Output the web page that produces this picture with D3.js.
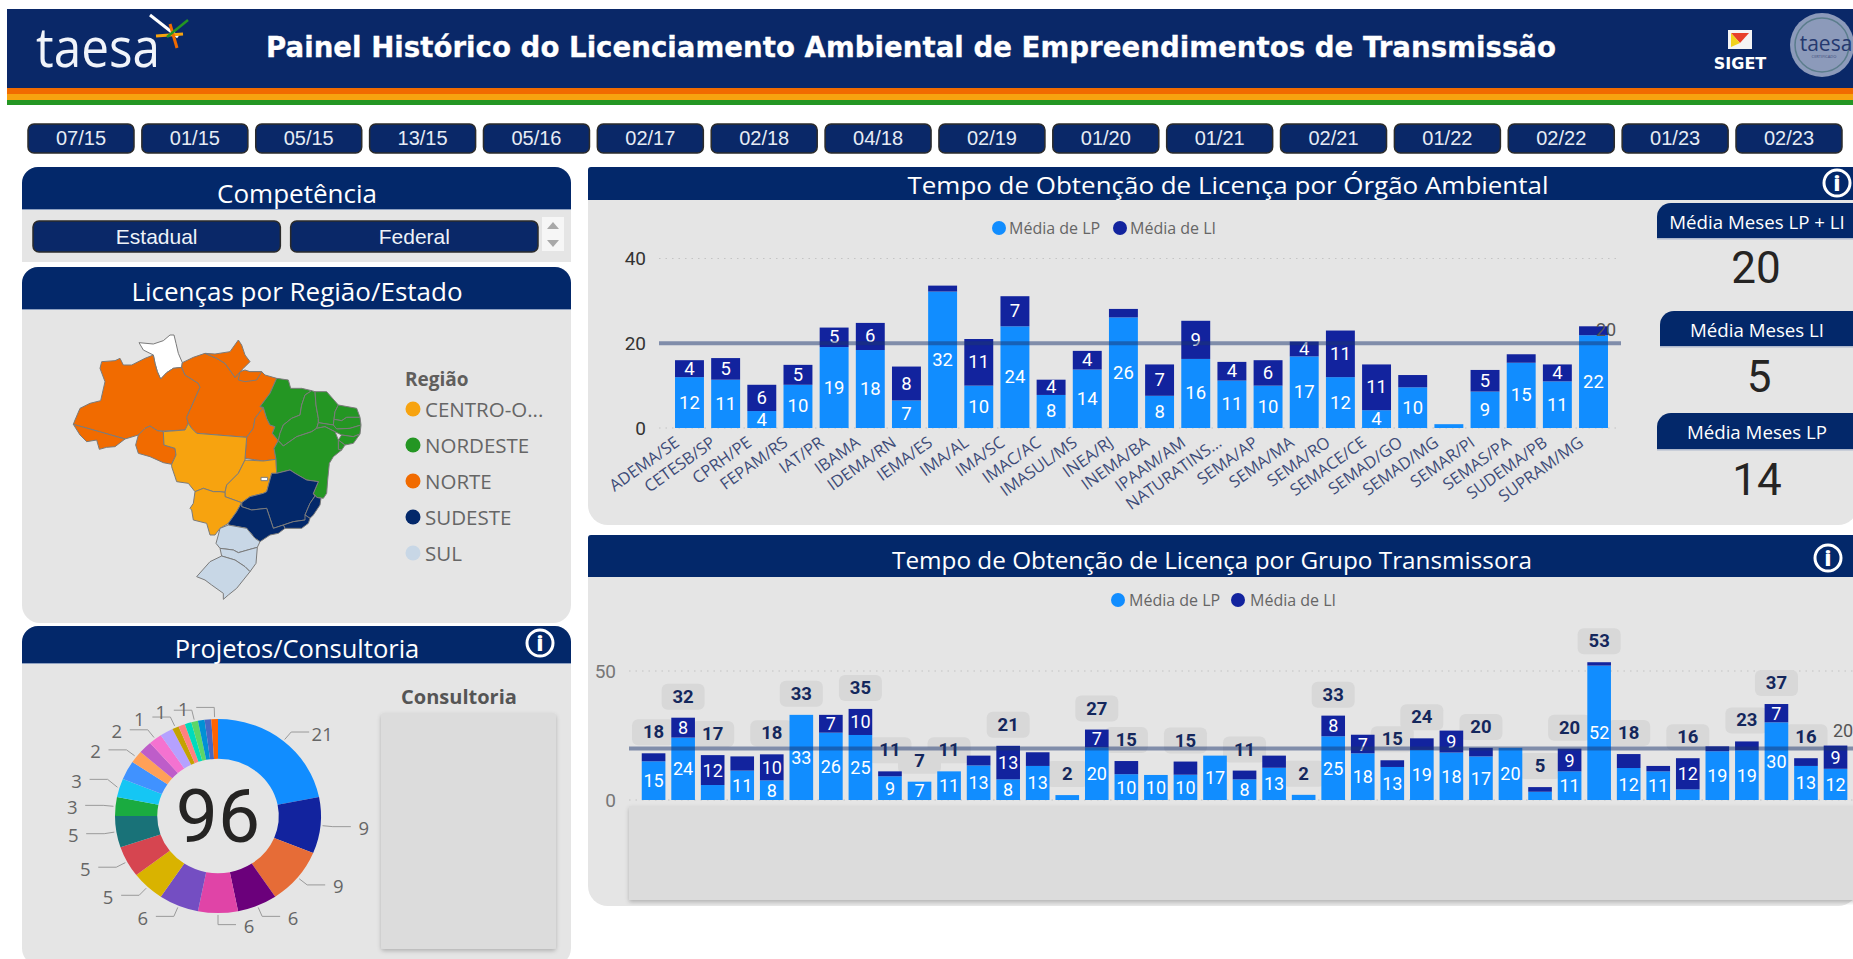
<!DOCTYPE html>
<html><head><meta charset="utf-8">
<script src="https://cdn.jsdelivr.net/npm/d3@7/dist/d3.min.js"></script>
<style>
html,body{margin:0;padding:0;background:#fff;overflow:hidden}
svg{display:block}
text{font-family:"Open Sans",sans-serif}
.narrow{font-family:"Liberation Sans Narrow","Roboto",sans-serif}
.arial{font-family:"Liberation Sans",Arial,sans-serif}
</style></head><body>
<svg id="c" width="1853" height="959"></svg>
<script>
// ---------- data ----------
const periodButtons = ["07/15","01/15","05/15","13/15","05/16","02/17","02/18","04/18","02/19","01/20","01/21","02/21","01/22","02/22","01/23","02/23"];
const competencia = ["Estadual","Federal"];

const orgaos = ["ADEMA/SE","CETESB/SP","CPRH/PE","FEPAM/RS","IAT/PR","IBAMA","IDEMA/RN","IEMA/ES","IMA/AL","IMA/SC","IMAC/AC","IMASUL/MS","INEA/RJ","INEMA/BA","IPAAM/AM","NATURATINS...","SEMA/AP","SEMA/MA","SEMA/RO","SEMACE/CE","SEMAD/GO","SEMAD/MG","SEMAR/PI","SEMAS/PA","SUDEMA/PB","SUPRAM/MG"];
const orgaoLP = [12,11.4,4,10.2,19.1,18.4,6.5,32.2,10,24,7.8,13.8,26.1,7.6,16.3,11.2,10,16.9,12,4.2,9.6,0.9,8.6,15.4,11,21.9];
const orgaoLI = [4,5.1,6.2,4.7,4.6,6.4,8,1.4,11,7.1,3.6,4.4,2,7.4,9,4.4,6,3.5,11,10.8,2.9,0,5.1,2,4,2.1];
const orgaoTicks = [0,20,40];
const orgaoAverage = 20;

const grupos = d3.range(1,42).map(i=>"Grupo "+i);
const grupoLP = [15,24.2,5.8,11.4,7.6,33,26.1,25.2,9.2,7.1,11.1,13.4,8,13.2,1.9,20.4,10,9.7,9.8,17.2,8,12.5,2,24.7,18.1,12.8,19.4,18.4,16.9,20.2,3.2,11.1,52.1,12.4,11.1,4.1,18.9,19.3,30.1,13.2,12.1];
const grupoLI = [3.1,7.7,11.6,5.5,10.1,0,6.9,10.1,1.9,0,0,3.8,13,5.3,0,6.9,5.1,0,5.1,0,3.4,4.7,0,8,7.2,2.6,4.5,8.5,3.3,0,1.8,8.8,1.3,5.4,2.1,12.1,1.9,3.4,7.1,3,9];
const grupoTotalShown = [1,1,1,0,1,1,0,1,1,1,1,0,1,0,1,1,1,0,1,0,1,0,1,1,0,1,1,0,1,0,1,1,1,1,0,1,0,1,1,1,0];
const grupoTicks = [0,50];
const grupoAverage = 20;

const consultoriaValues = [21,9,9,6,6,6,5,5,5,3,3,3,2,2,2,2,1,1,1,1,1,1,1];
const consultoriaColors = ["#118DFF","#12239E","#E66C37","#6B007B","#E044A7","#744EC2","#D9B300","#D64550","#197278","#1AAB40","#15C6F4","#4092FF","#FFA058","#BE5DC9","#F472D0","#B5A1FF","#C4A200","#FF8080","#00DBBC","#5BD667","#0091D5","#4668C5","#FF6300"];
const consultoriaLabelShown = [1,1,1,1,1,1,1,1,1,1,1,0,1,0,1,0,1,0,0,1,0,0,1];
const consultoriaTotal = 96;

const regioes = ["CENTRO-O...","NORDESTE","NORTE","SUDESTE","SUL"];
const regiaoCores = ["#F7A30F","#249623","#F16B00","#03286A","#C8D7E6"];
const kpis = [["Média Meses LP + LI",20],["Média Meses LI",5],["Média Meses LP",14]];

// state outlines, in map units
const states = [
 ["RR",null,[[207,38],[250,42],[280,32],[300,15],[312,15],[318,40],[325,70],[337,98],[335,112],[310,115],[290,128],[272,147],[262,125],[255,100],[250,75],[220,60]]],
 ["AM",2,[[10,283],[15,270],[30,235],[60,220],[92,212],[105,155],[90,115],[95,95],[135,92],[150,85],[160,105],[185,105],[225,85],[250,75],[255,100],[262,125],[272,147],[290,128],[310,115],[335,112],[345,135],[385,160],[390,172],[350,262],[355,280],[345,300],[280,303],[262,302],[240,288],[225,295],[205,315],[165,327],[88,305]]],
 ["AC",2,[[10,283],[88,305],[165,327],[135,350],[110,352],[88,358],[80,330],[50,335],[30,315]]],
 ["RO",2,[[205,315],[225,295],[240,288],[262,302],[280,305],[282,345],[315,355],[318,375],[305,403],[280,398],[240,380],[205,370],[197,345]]],
 ["PA",2,[[335,112],[337,98],[370,82],[405,70],[440,85],[465,100],[495,142],[510,125],[540,125],[575,125],[585,135],[620,145],[600,190],[570,230],[580,232],[555,265],[550,295],[530,322],[380,310],[365,295],[355,280],[350,262],[390,172],[385,160],[345,135]]],
 ["PA2",2,[[510,125],[525,120],[540,125],[575,125],[560,150],[525,155],[505,150]]],
 ["AP",2,[[405,70],[435,72],[480,65],[505,30],[515,45],[525,75],[540,95],[520,115],[495,142],[465,100],[440,85]]],
 ["TO",2,[[580,232],[590,265],[600,285],[615,290],[607,310],[625,332],[612,355],[618,388],[580,393],[525,385],[530,322],[550,295],[555,265]]],
 ["MT",0,[[280,305],[345,300],[355,280],[365,295],[380,310],[530,322],[525,385],[525,390],[505,430],[470,465],[465,487],[450,485],[430,485],[400,475],[375,485],[355,460],[320,455],[315,440],[305,410],[305,403],[318,375],[315,355],[282,345]]],
 ["GO",0,[[525,390],[580,393],[618,388],[620,430],[605,430],[590,485],[580,490],[540,500],[515,518],[465,500],[465,487],[470,465],[505,430]]],
 ["DF",null,[[573,442],[593,442],[593,452],[573,452]]],
 ["MS",0,[[375,485],[400,475],[430,485],[450,485],[465,487],[465,500],[515,518],[500,545],[475,580],[450,595],[435,615],[420,615],[410,580],[370,570],[365,540],[360,535],[370,520]]],
 ["MA",1,[[620,145],[655,150],[662,175],[695,175],[725,182],[705,195],[695,225],[690,255],[665,265],[640,285],[630,310],[625,332],[607,310],[615,290],[600,285],[590,265],[580,232],[570,230],[600,190]]],
 ["PI",1,[[725,182],[735,185],[738,225],[745,265],[745,278],[740,295],[725,305],[680,320],[640,348],[625,332],[630,310],[640,285],[665,265],[690,255],[695,225],[705,195]]],
 ["CE",1,[[735,185],[770,185],[805,225],[795,245],[792,268],[790,285],[745,278],[745,265],[738,225]]],
 ["RN",1,[[805,225],[860,235],[870,262],[830,262],[815,272],[792,268],[795,245]]],
 ["PB",1,[[792,268],[815,272],[830,262],[870,262],[873,285],[840,295],[800,297],[790,285]]],
 ["PE",1,[[740,295],[745,278],[790,285],[800,297],[840,295],[873,285],[870,312],[850,320],[815,315],[795,305],[765,290]]],
 ["AL",1,[[815,315],[850,320],[870,312],[850,340],[825,345],[805,330]]],
 ["SE",1,[[805,330],[825,345],[815,360],[805,358]]],
 ["BA",1,[[625,332],[640,348],[680,320],[725,305],[740,295],[765,290],[795,305],[805,330],[805,358],[815,360],[790,380],[778,400],[773,450],[770,490],[760,505],[740,502],[730,490],[745,455],[710,450],[675,430],[660,420],[620,430],[618,388],[612,355]]],
 ["MG",3,[[590,485],[605,430],[620,430],[660,420],[675,430],[710,450],[745,455],[730,490],[735,498],[720,520],[705,555],[720,565],[705,570],[670,575],[640,585],[610,595],[600,565],[590,535],[545,540],[515,530],[515,518],[540,500],[580,490]]],
 ["ES",3,[[730,490],[740,502],[753,505],[750,525],[730,555],[720,565],[705,555],[720,520],[735,498]]],
 ["RJ",3,[[705,555],[720,565],[715,580],[695,595],[675,595],[645,595],[640,585],[670,575],[705,570]]],
 ["SP",3,[[515,530],[545,540],[590,535],[600,565],[610,595],[640,585],[645,595],[625,610],[600,615],[570,635],[555,625],[530,595],[475,585],[475,580],[500,545],[515,518]]],
 ["PR",4,[[475,585],[530,595],[555,625],[570,635],[562,652],[540,658],[505,668],[490,660],[450,655],[438,640],[445,615],[450,595]]],
 ["SC",4,[[450,655],[490,660],[505,668],[540,658],[562,652],[558,700],[540,725],[525,710],[495,690],[455,678]]],
 ["RS",4,[[455,678],[495,690],[525,710],[540,725],[500,775],[475,795],[460,808],[460,790],[425,765],[405,750],[380,740],[420,695]]]
];

// ---------- helpers ----------
const NAVY="#03286A", GREY="#E5E5E5", LP="#118DFF", LI="#12239E";
const svg=d3.select("#c");
const defs=svg.append("defs");
const sh=defs.append("filter").attr("id","sh").attr("x","-5%").attr("y","-5%").attr("width","110%").attr("height","110%");
sh.append("feDropShadow").attr("dx",0).attr("dy",2).attr("stdDeviation",2).attr("flood-color","#000").attr("flood-opacity",.22);

function rr(x,y,w,h,rt,rb,fill){
  const p=d3.path();
  p.moveTo(x+rt,y);p.lineTo(x+w-rt,y);p.arcTo(x+w,y,x+w,y+rt,rt);
  p.lineTo(x+w,y+h-rb);p.arcTo(x+w,y+h,x+w-rb,y+h,rb);
  p.lineTo(x+rb,y+h);p.arcTo(x,y+h,x,y+h-rb,rb);
  p.lineTo(x,y+rt);p.arcTo(x,y,x+rt,y,rt);p.closePath();
  return svg.append("path").attr("d",p.toString()).attr("fill",fill);
}
function txt(parent,x,y,s,size,fill,opts={}){
  const t=parent.append("text").attr("x",x).attr("y",y).attr("text-anchor",opts.anchor||"middle")
   .attr("dominant-baseline","central").attr("font-size",size).attr("fill",fill).text(s);
  if(opts.weight)t.attr("font-weight",opts.weight);
  if(opts.cls)t.attr("class",opts.cls);
  if(opts.family)t.style("font-family",opts.family);
  if(opts.len)t.attr("textLength",opts.len).attr("lengthAdjust","spacingAndGlyphs");
  return t;
}
function panel(x,y,w,hHead,hTotal,title,cx,cy,size,rt,rb,len){
  rr(x,y,w,hTotal,rt,rb,GREY);
  rr(x,y,w,hHead,rt,0,NAVY);
  svg.append("rect").attr("x",x).attr("y",y+hHead-1).attr("width",w).attr("height",1).attr("fill","#8ea0c0");
  txt(svg,cx,cy,title,size,"#fff",{len});
}
function info(x,y){
  svg.append("circle").attr("cx",x).attr("cy",y).attr("r",13).attr("fill",NAVY).attr("stroke","#fff").attr("stroke-width",3);
  txt(svg,x,y,"i",21,"#fff",{weight:800});
}

// ---------- page header ----------
svg.append("rect").attr("x",7).attr("y",9).attr("width",1846).attr("height",80).attr("fill","#0A2868");
[["#F16B00",88,6],["#F7A30F",94,6],["#C9D9A0",100,1],["#249623",100,5]].forEach(b=>
  svg.append("rect").attr("x",7).attr("y",b[1]).attr("width",1846).attr("height",b[2]).attr("fill",b[0]));
txt(svg,98,46,"taesa",54,"#F1F4FA",{len:124});
[[150,15,178,37,"#fff",3],[156,36,183,34,"#F7A30F",3],[170,24,177,48,"#F16B00",3],[167,37,188,20,"#249623",2.5]].forEach(l=>
  svg.append("line").attr("x1",l[0]).attr("y1",l[1]).attr("x2",l[2]).attr("y2",l[3]).attr("stroke",l[4]).attr("stroke-width",l[5]));
txt(svg,911,47,"Painel Histórico do Licenciamento Ambiental de Empreendimentos de Transmissão",28.5,"#fff",{weight:700,family:"'DejaVu Sans'",len:1290}).attr("stroke","#fff").attr("stroke-width",.3);
// SIGET mark
svg.append("rect").attr("x",1728).attr("y",30).attr("width",24).attr("height",19).attr("fill","#F4F4F4");
svg.append("path").attr("d","M1731 33H1749L1740 43Z").attr("fill","#E8402A");
svg.append("path").attr("d","M1731 33L1740 43L1731 47Z").attr("fill","#F2D21C");
txt(svg,1740,63,"SIGET",16,"#fff",{weight:700,family:"'DejaVu Sans'"});
svg.append("circle").attr("cx",1822).attr("cy",45).attr("r",32).attr("fill","#8C9ABA");
svg.append("circle").attr("cx",1822).attr("cy",45).attr("r",27).attr("fill","none").attr("stroke","#5B7D8C").attr("stroke-width",1.5);
txt(svg,1826,43,"taesa",21,"#25396F");
txt(svg,1824,56,"CERTIFICADO",4,"#3c4c7a");

// ---------- period buttons ----------
const btnX=d3.scaleLinear().domain([0,15]).range([28,1736]);
const btn=svg.append("g").selectAll("g").data(periodButtons).join("g");
btn.append("rect").attr("x",(d,i)=>btnX(i)).attr("y",124).attr("width",106).attr("height",29).attr("rx",6)
  .attr("fill","#0A2868").attr("stroke","#2b2b2b").attr("stroke-width",1.5);
btn.append("text").attr("class","arial").attr("x",(d,i)=>btnX(i)+53).attr("y",138).attr("text-anchor","middle")
  .attr("dominant-baseline","central").attr("font-size",20).attr("fill","#E6ECF5").text(d=>d);

// ---------- competência ----------
panel(22,167,549,43,95,"Competência",297,193,26,16,0);
const compX=d3.scaleBand().domain(competencia).range([33,538]).paddingInner(.04);
const comp=svg.append("g").selectAll("g").data(competencia).join("g");
comp.append("rect").attr("x",d=>compX(d)).attr("y",221).attr("width",compX.bandwidth()).attr("height",31).attr("rx",6)
  .attr("fill","#0A2868").attr("stroke","#2b2b2b").attr("stroke-width",1.5);
comp.append("text").attr("class","arial").attr("x",d=>compX(d)+compX.bandwidth()/2).attr("y",236.5).attr("text-anchor","middle")
  .attr("dominant-baseline","central").attr("font-size",21).attr("fill","#EEF2F8").text(d=>d);
svg.append("rect").attr("x",542).attr("y",217).attr("width",22).attr("height",34).attr("fill","#F6F6F6");
svg.append("path").attr("d","M547 229L553 222L559 229Z").attr("fill","#A8A8A8");
svg.append("path").attr("d","M547 240L553 247L559 240Z").attr("fill","#A8A8A8");

// ---------- map ----------
panel(22,267,549,43,356,"Licenças por Região/Estado",297,291,26,16,18);
const mapPath=d3.geoPath(d3.geoIdentity().scale(1/3).translate([70,330]));
svg.append("g").selectAll("path").data(states).join("path")
  .attr("d",d=>mapPath({type:"Polygon",coordinates:[[...d[2],d[2][0]]]}))
  .attr("fill",d=>d[1]===null?"#fff":regiaoCores[d[1]])
  .attr("stroke","#7B7B7B").attr("stroke-width",1).attr("stroke-linejoin","round");
txt(svg,405,379,"Região",19,"#605E5C",{anchor:"start",weight:700});
const legY=d3.scalePoint().domain(regioes).range([409,553]);
const leg=svg.append("g").selectAll("g").data(regioes).join("g");
leg.append("circle").attr("cx",413).attr("cy",d=>legY(d)).attr("r",7.5).attr("fill",(d,i)=>regiaoCores[i]);
leg.append("text").attr("x",425).attr("y",d=>legY(d)).attr("dominant-baseline","central").attr("font-size",20.5).attr("fill","#666").text(d=>d);

// ---------- donut ----------
panel(22,626,549,38,340,"Projetos/Consultoria",297,648,25.5,16,18);
info(540,643);
const cx=218, cy=816, R=100, sx=1.03, sy=.97;
const arcs=d3.pie().sort(null).value(d=>d)(consultoriaValues);
const arcGen=d3.arc().innerRadius(59).outerRadius(R);
const don=svg.append("g").attr("transform",`translate(${cx},${cy}) scale(${sx},${sy})`);
don.selectAll("path").data(arcs).join("path").attr("d",arcGen).attr("fill",(d,i)=>consultoriaColors[i]);
const pt=(a,r)=>[cx+sx*r*Math.sin(a),cy-sy*r*Math.cos(a)];
const mid=d=>(d.startAngle+d.endAngle)/2;
const side=d=>mid(d)<=Math.PI+1e-6?1:-1;
const shown=arcs.map((d,i)=>({...d,i})).filter(d=>consultoriaLabelShown[d.i]);
shown.forEach(d=>{d.anchor=pt(mid(d),R+2);d.elbow=pt(mid(d),R+12);d.ly=d.elbow[1];});
// spread neighbouring labels on the left side, working up the ring
const leftSide=shown.filter(d=>side(d)<0).sort((a,b)=>b.ly-a.ly);
leftSide.forEach((d,k)=>{ if(k&&leftSide[k-1].ly-d.ly<26&&Math.abs(leftSide[k-1].elbow[0]-d.elbow[0])<14) d.ly=leftSide[k-1].ly-26; });
const lineGen=d3.line();
svg.append("g").selectAll("path").data(shown).join("path").attr("fill","none").attr("stroke","#9a9a9a").attr("stroke-width",1)
  .attr("d",d=>lineGen([d.anchor,[d.elbow[0],d.ly],[d.elbow[0]+side(d)*18,d.ly]]));
svg.append("g").selectAll("text").data(shown).join("text")
  .attr("x",d=>d.elbow[0]+side(d)*31).attr("y",d=>d.ly+1)
  .attr("text-anchor","middle").attr("dominant-baseline","central").attr("font-size",18.5).attr("fill","#666").text(d=>d.value);
txt(svg,cx,cy,consultoriaTotal,75,"#252423",{family:"Roboto"});
txt(svg,459,696,"Consultoria",20,"#555",{weight:700});
svg.append("rect").attr("x",381).attr("y",713).attr("width",175).attr("height",236).attr("rx",3).attr("fill","#DCDCDC").attr("filter","url(#sh)");

// ---------- legend helper ----------
function legend(x1,t1,x2,t2,y){
  [[x1,t1,LP,"Média de LP"],[x2,t2,LI,"Média de LI"]].forEach(e=>{
    svg.append("circle").attr("cx",e[0]).attr("cy",y).attr("r",7).attr("fill",e[2]);
    txt(svg,e[1],y,e[3],16,"#666",{anchor:"start"});
  });
}
function yAxis(scale,ticks,x,color){
  const g=svg.append("g").attr("transform",`translate(${x},0)`).call(d3.axisLeft(scale).tickValues(ticks).tickSize(0).tickPadding(0).tickFormat(d3.format("d")));
  g.select(".domain").remove();
  g.selectAll("text").attr("class","narrow").attr("font-size",19).attr("fill",color);
}
function stacks(g,x,y,lp,li,cats,thr,size){
  const row=g.selectAll("g").data(cats).join("g");
  row.append("rect").attr("x",d=>x(d)).attr("width",x.bandwidth()).attr("fill",LP)
    .attr("y",(d,i)=>y(lp[i])).attr("height",(d,i)=>y(0)-y(lp[i]));
  row.append("rect").attr("x",d=>x(d)).attr("width",x.bandwidth()).attr("fill",LI)
    .attr("y",(d,i)=>y(lp[i]+li[i])).attr("height",(d,i)=>y(lp[i])-y(lp[i]+li[i]));
  const lbl=(vals,base)=>row.filter((d,i)=>vals[i]>=thr).append("text").attr("class","narrow")
    .attr("x",d=>x(d)+x.bandwidth()/2)
    .attr("y",d=>{const i=cats.indexOf(d);return y(base[i]+vals[i]/2);})
    .attr("text-anchor","middle").attr("dominant-baseline","central").attr("font-size",size).attr("fill","#fff")
    .text(d=>d3.format(".0f")(vals[cats.indexOf(d)]));
  lbl(lp,lp.map(()=>0)); lbl(li,lp);
}
function refLine(scale,v,x1,x2,lx,ly){
  svg.append("line").attr("x1",x1).attr("x2",x2).attr("y1",scale(v)).attr("y2",scale(v))
    .attr("stroke","#1B3670").attr("stroke-opacity",.5).attr("stroke-width",4);
  svg.append("text").attr("class","narrow").attr("x",lx).attr("y",ly).attr("text-anchor","middle").attr("dominant-baseline","central")
    .attr("font-size",18).attr("fill","#555").text(v);
}
function grid(scale,ticks,x1,x2){
  svg.append("g").selectAll("line").data(ticks).join("line").attr("x1",x1).attr("x2",x2)
    .attr("y1",d=>scale(d)).attr("y2",d=>scale(d)).attr("stroke","#C4C4C4").attr("stroke-width",1.2).attr("stroke-dasharray","1.5 5");
}

// ---------- chart 1 ----------
rr(588,167,1270,358,3,20,GREY);
rr(588,167,1270,33,3,0,NAVY);
txt(svg,1228,184,"Tempo de Obtenção de Licença por Órgão Ambiental",24.5,"#fff",{len:641});
info(1837,183);
legend(999,1009,1120,1130,228);
const x1=d3.scaleBand().domain(orgaos).range([671.4,1611.6]).paddingInner(.2).paddingOuter(.1);
const y1=d3.scaleLinear().domain([0,40]).range([428,258.5]);
grid(y1,orgaoTicks.filter(d=>d!==20),659,1619);
yAxis(y1,orgaoTicks,646,"#333");
const xa=svg.append("g").attr("transform","translate(0,428)").call(d3.axisBottom(x1).tickSize(0).tickPadding(0));
xa.select(".domain").remove();
xa.selectAll("text").attr("font-size",16.5).attr("fill","#3E4C78").attr("text-anchor","end").attr("dy",0)
  .attr("transform","translate(-9,17) rotate(-35.5)");
stacks(svg.append("g"),x1,y1,orgaoLP,orgaoLI,orgaos,3.4,18.5);
refLine(y1,orgaoAverage,659,1621,1606,329);

// KPI cards
const kpiBox=[[1657,203,35,1756,268],[1660,311,35,1759,377],[1657,413,36,1757,480]];
kpis.forEach((k,i)=>{
  const b=kpiBox[i];
  rr(b[0],b[1],210,b[2],14,0,NAVY);
  svg.append("rect").attr("x",b[0]).attr("y",b[1]+b[2]).attr("width",210).attr("height",1.5).attr("fill","#AEB8CC");
  txt(svg,1757,b[1]+b[2]/2+.5,k[0],18.7,"#fff");
  txt(svg,b[3],b[4],k[1],44,"#252423",{family:"Roboto"});
});

// ---------- chart 2 ----------
rr(588,535,1270,371,3,20,GREY);
rr(588,535,1270,42,3,0,NAVY);
txt(svg,1212,559,"Tempo de Obtenção de Licença por Grupo Transmissora",24.5,"#fff",{len:640});
info(1828,558);
legend(1118,1129,1238,1250,600);
const x2=d3.scaleBand().domain(grupos).range([638.8,1850.3]).paddingInner(.2).paddingOuter(.1);
const y2=d3.scaleLinear().domain([0,50]).range([800,671]);
svg.append("rect").attr("x",629).attr("y",806).attr("width",1230).attr("height",94).attr("fill","#DCDCDC").attr("filter","url(#sh)");
grid(y2,grupoTicks,629,1853);
yAxis(y2,grupoTicks,616,"#777");
const totals=grupos.map((g,i)=>({g,i,v:grupoLP[i]+grupoLI[i]})).filter(d=>grupoTotalShown[d.i]);
svg.append("g").selectAll("rect").data(totals).join("rect")
  .attr("x",d=>x2(d.g)+x2.bandwidth()/2-21.5).attr("width",43).attr("height",26).attr("rx",6)
  .attr("y",d=>y2(d.v)-8-26).attr("fill","#D8D8D8");
stacks(svg.append("g"),x2,y2,grupoLP,grupoLI,grupos,6.5,18);
svg.append("g").selectAll("text").data(totals).join("text").attr("class","narrow")
  .attr("x",d=>x2(d.g)+x2.bandwidth()/2).attr("y",d=>y2(d.v)-8-13)
  .attr("text-anchor","middle").attr("dominant-baseline","central").attr("font-size",18.5).attr("font-weight",700).attr("fill","#14275C")
  .text(d=>d3.format(".0f")(d.v));
refLine(y2,grupoAverage,629,1853,1843,730);
</script>
</body></html>
